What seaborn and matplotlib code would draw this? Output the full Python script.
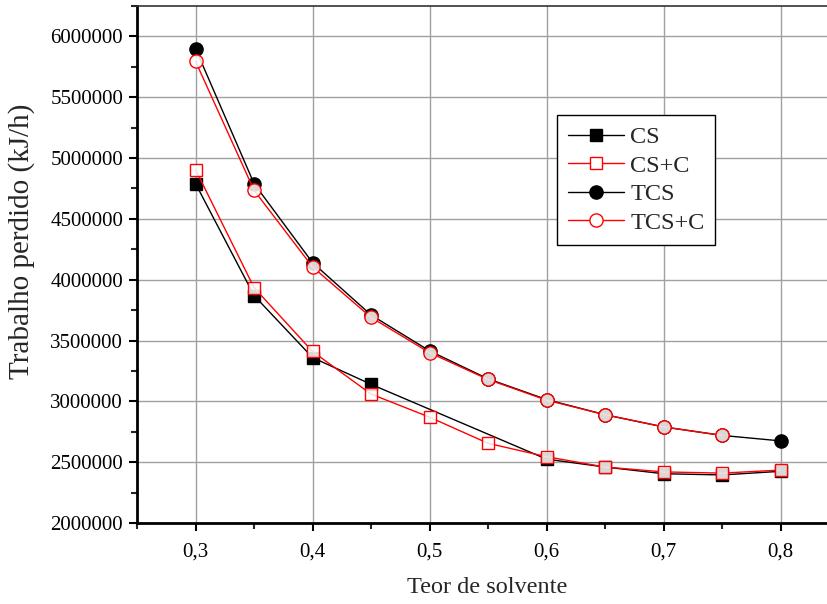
import numpy as np
import pandas as pd
import matplotlib
matplotlib.use("Agg")
import matplotlib.pyplot as plt
from matplotlib.ticker import MultipleLocator, FuncFormatter
import seaborn as sns

# Solvent content (x) and lost work (kJ/h) for each configuration
x_cs = [0.30, 0.35, 0.40, 0.45, 0.60, 0.65, 0.70, 0.75, 0.80]
cs = [4790000, 3870000, 3360000, 3140000, 2525000, 2460000, 2405000, 2395000, 2425000]

x_csc = [0.30, 0.35, 0.40, 0.45, 0.50, 0.55, 0.60, 0.65, 0.70, 0.75, 0.80]
cs_c = [4905000, 3935000, 3410000, 3060000, 2870000, 2655000, 2545000, 2460000, 2420000, 2410000, 2435000]

x_tcs = [0.30, 0.35, 0.40, 0.45, 0.50, 0.55, 0.60, 0.65, 0.70, 0.75, 0.80]
tcs = [5900000, 4790000, 4140000, 3710000, 3415000, 3185000, 3015000, 2890000, 2790000, 2720000, 2675000]

x_tcsc = [0.30, 0.35, 0.40, 0.45, 0.50, 0.55, 0.60, 0.65, 0.70, 0.75]
tcs_c = [5795000, 4735000, 4105000, 3690000, 3400000, 3180000, 3010000, 2890000, 2790000, 2720000]

labels = ["CS", "CS+C", "TCS", "TCS+C"]
xticks = [0.3, 0.4, 0.5, 0.6, 0.7, 0.8]

sns.set_style("white")
plt.rcParams["font.family"] = ["Liberation Serif", "DejaVu Serif"]

fig = plt.figure(figsize=(8.27, 6.04), dpi=100)
ax = fig.add_axes([0.1657, 0.1341, 0.8343, 0.8560])

white_fill = (1, 1, 1, 0.85)
series = [
    (x_cs, cs, labels[0], "black", "s", "black", 8.5),
    (x_csc, cs_c, labels[1], "red", "s", white_fill, 8.5),
    (x_tcs, tcs, labels[2], "black", "o", "black", 9.5),
    (x_tcsc, tcs_c, labels[3], "red", "o", white_fill, 9.5),
]
for xs, ys, lab, col, mk, face, ms in series:
    df = pd.DataFrame({"x": xs, "y": ys})
    sns.lineplot(data=df, x="x", y="y", ax=ax, color=col, lw=1.0,
                 marker=mk, markersize=ms, markerfacecolor=face,
                 markeredgecolor=col, markeredgewidth=1.0, label=lab,
                 zorder=3)

ax.set_xlim(0.25, 0.8397)
ax.set_ylim(2000000, 6250000)
ax.set_xticks(xticks)
ax.xaxis.set_minor_locator(MultipleLocator(0.05))
ax.yaxis.set_major_locator(MultipleLocator(500000))
ax.yaxis.set_minor_locator(MultipleLocator(250000))
ax.xaxis.set_major_formatter(FuncFormatter(lambda v, p: f"{v:.1f}".replace(".", ",")))
ax.yaxis.set_major_formatter(FuncFormatter(lambda v, p: f"{int(round(v))}"))

ax.grid(True, which="major", color="#a0a0a0", lw=1.0)
ax.set_axisbelow(True)

for side in ["left", "bottom"]:
    ax.spines[side].set_linewidth(2.0)
    ax.spines[side].set_color("black")
ax.spines["top"].set_linewidth(1.2)
ax.spines["top"].set_color("#333333")
ax.spines["right"].set_visible(False)

ax.tick_params(which="major", direction="out", length=6, width=1.5,
               labelsize=15, bottom=True, left=True, colors="black")
ax.tick_params(which="minor", direction="out", length=4, width=1.5,
               bottom=True, left=True)
ax.tick_params(axis="x", pad=8)
ax.tick_params(axis="y", pad=4)

ax.set_xlabel("Teor de solvente", fontsize=17.5)
ax.set_ylabel("Trabalho perdido (kJ/h)", fontsize=21)
ax.xaxis.set_label_coords(0.507, -0.104)
ax.yaxis.set_label_coords(-0.148, 0.545)

leg = ax.legend(loc="upper left", bbox_to_anchor=(0.609, 0.789), fontsize=17.5,
                frameon=True, fancybox=False, edgecolor="black",
                handlelength=2.3, borderpad=0.45, labelspacing=0.27,
                handletextpad=0.25, borderaxespad=0)
leg.get_frame().set_linewidth(1.0)
leg.get_frame().set_alpha(1)
for h in leg.legend_handles:
    if h.get_color() == "red":
        h.set_markerfacecolor("white")

fig.savefig("out.png", dpi=100)
